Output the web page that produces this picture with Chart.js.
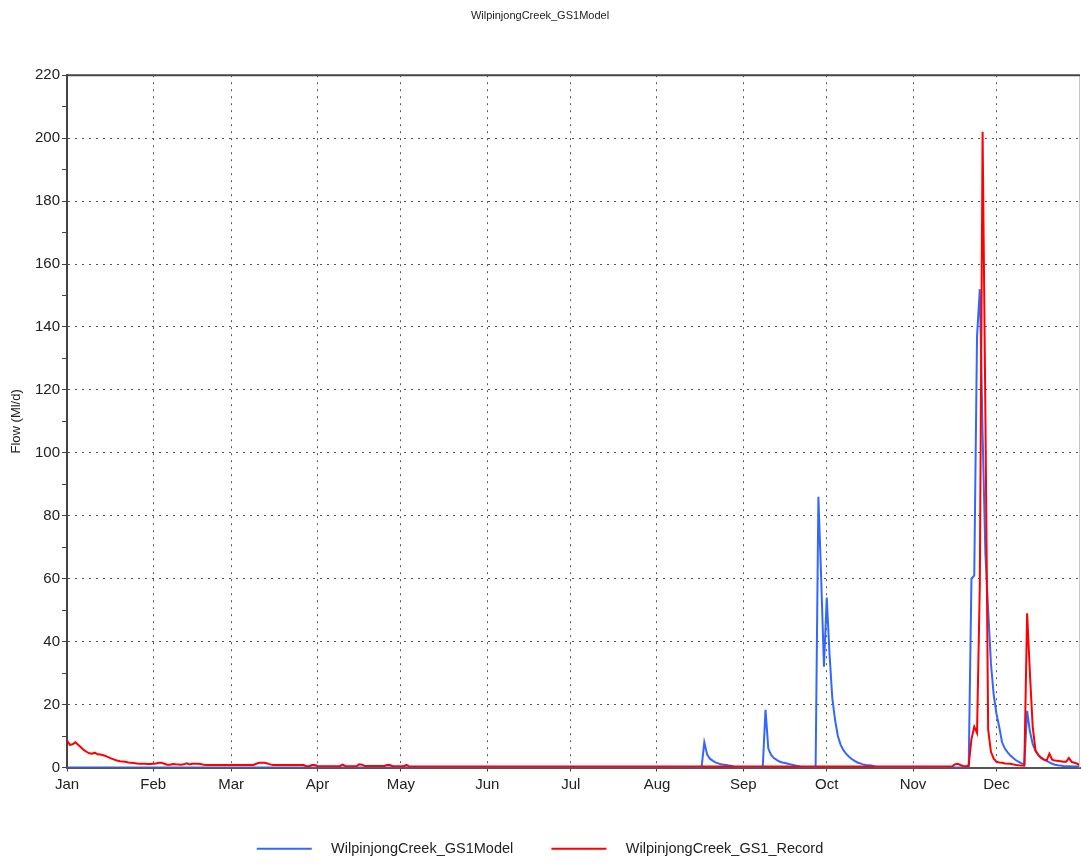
<!DOCTYPE html>
<html>
<head>
<meta charset="utf-8">
<script src="https://cdn.jsdelivr.net/npm/chart.js@4.4.1/dist/chart.umd.min.js"></script>
<style>
  html, body { margin: 0; padding: 0; background: #fff; }
  #wrap { width: 1081px; height: 866px; }
</style>
</head>
<body>
<div id="wrap"><canvas id="flowCanv"></canvas></div>
<script>
// month starts as day-of-year (non leap year), used for ticks
const monthStarts = [0, 31, 59, 90, 120, 151, 181, 212, 243, 273, 304, 334]
const monthLabels = ['Jan', 'Feb', 'Mar', 'Apr', 'May', 'Jun', 'Jul', 'Aug', 'Sep', 'Oct', 'Nov', 'Dec']

// modelled flow (Ml/d), day of year -> value
const modelDays = [0, 228, 229, 230, 231, 232, 233, 234, 235, 236, 237, 238, 239, 240,
  250, 251, 252, 253, 254, 255, 256, 257, 258, 259, 260, 261, 262, 263, 264,
  269, 270, 271, 272, 273, 274, 275, 276, 277, 278, 279, 280, 281, 282, 283, 284, 285, 286, 287, 288, 289, 290, 291,
  324, 325, 326, 327, 328, 329, 330, 331, 332, 333, 334, 335, 336, 337, 338, 339, 340, 341, 342, 343, 344,
  345, 346, 347, 348, 349, 350, 351, 352, 353, 354, 355, 356, 357, 358, 360, 362, 364]
const modelFlow = [0, 0, 8.0, 4.2, 2.8, 2.2, 1.6, 1.3, 1.0, 0.9, 0.8, 0.6, 0.5, 0,
  0, 18.3, 6.0, 4.0, 3.0, 2.4, 1.9, 1.6, 1.4, 1.2, 1.0, 0.8, 0.6, 0.4, 0,
  0, 86, 60, 32, 54, 36, 22, 15, 10, 7.2, 5.5, 4.3, 3.4, 2.7, 2.1, 1.6, 1.3, 1.0, 0.8, 0.7, 0.6, 0.4, 0,
  0, 60, 61, 137, 152, 106, 68, 50, 33, 23, 17, 12.8, 8, 6, 4.8, 3.8, 3.0, 2.3, 1.8, 1.3, 1.1,
  18, 11.5, 7.5, 5.2, 4.0, 3.2, 2.6, 2.1, 1.6, 1.2, 0.9, 0.7, 0.6, 0.5, 0.4, 0.3, 0.3]

// recorded flow (Ml/d)
const recordDays = [0, 1, 2, 3, 4, 5, 6, 7, 8, 9, 10, 11, 12, 13, 14, 15, 16, 17, 18, 19, 20,
  21, 22, 23, 24, 25, 26, 28, 29, 30, 31, 32, 33, 34, 35, 36, 37, 38, 39, 41, 42, 43, 44, 45, 47, 48, 49, 50,
  67, 68, 69, 71, 72, 73, 74, 85, 86, 87, 88, 89, 90, 98, 99, 100, 104, 105, 106, 107, 114, 115, 116, 117, 121, 122, 123,
  318, 319, 320, 321, 322, 323, 324, 325, 326, 327, 328, 329, 330, 331, 332, 333, 334, 335, 336, 337, 339, 340, 341, 342, 344,
  345, 346, 347, 348, 349, 350, 351, 352, 353, 354, 355, 357, 358, 359, 360, 361, 362, 363, 364]
const recordFlow = [8.6, 7.2, 7.4, 8.0, 7.2, 6.4, 5.6, 5.0, 4.5, 4.4, 4.7, 4.2, 4.1, 3.9, 3.6, 3.2, 2.8, 2.5, 2.2, 2.0, 1.9,
  1.8, 1.6, 1.5, 1.4, 1.3, 1.2, 1.2, 1.1, 1.1, 1.2, 1.3, 1.5, 1.5, 1.2, 0.9, 0.9, 1.1, 1.0, 0.9, 1.0, 1.3, 1.0, 1.2, 1.2, 1.1, 0.9, 0.8,
  0.8, 1.2, 1.5, 1.5, 1.3, 1.0, 0.8, 0.8, 0.4, 0.4, 0.8, 0.8, 0.5, 0.4, 0.9, 0.5, 0.4, 1.0, 0.9, 0.5, 0.5, 0.8, 0.8, 0.4, 0.4, 0.8, 0.3,
  0.3, 1.0, 1.2, 0.8, 0.5, 0.4, 0.6, 9, 13, 11, 58, 202, 113, 12, 5, 2.8, 1.8, 1.6, 1.5, 1.3, 1.2, 1.0, 0.8, 0.7, 0.6,
  49, 30, 13, 5.5, 4.0, 3.0, 2.5, 2.2, 4.4, 2.5, 2.2, 2.0, 1.8, 1.8, 3.0, 1.8, 1.5, 1.2, 0.8]

const FONT = 'Liberation Sans, Arial, sans-serif'
const TXT = '#222'

function toPoints(days, vals) {
  return days.map((d, i) => ({ x: d, y: vals[i] }))
}

/* frame: top border and light right border */
const framePlugin = {
  id: 'frame',
  afterDatasetsDraw(chart) {
    const { ctx, chartArea: a } = chart
    ctx.save()
    ctx.strokeStyle = '#c8c8c8'
    ctx.lineWidth = 1
    ctx.beginPath()
    ctx.moveTo(a.right - 0.5, a.top)
    ctx.lineTo(a.right - 0.5, a.bottom)
    ctx.stroke()
    ctx.strokeStyle = '#444'
    ctx.lineWidth = 2
    ctx.beginPath()
    ctx.moveTo(a.left, a.top)
    ctx.lineTo(a.right, a.top)
    ctx.stroke()
    ctx.restore()
  }
}

// legend text gets some spacing so it sits like the original legend
function legendLabels(chart) {
  const items = Chart.defaults.plugins.legend.labels.generateLabels(chart)
  items.forEach(item => {
    item.text = '   ' + item.text + (item.datasetIndex === 0 ? '       ' : '')
  })
  return items
}

const flowCtx = document.getElementById('flowCanv')
const flowChart = new Chart(flowCtx, {
  type: 'line',
  data: {
    datasets: [{
        label: 'WilpinjongCreek_GS1Model',
        data: toPoints(modelDays, modelFlow),
        borderColor: 'rgb(51, 102, 255)',
        backgroundColor: 'rgb(51, 102, 255)',
        borderWidth: 2,
        order: 1
      },
      {
        label: 'WilpinjongCreek_GS1_Record',
        data: toPoints(recordDays, recordFlow),
        borderColor: 'rgb(255, 0, 0)',
        backgroundColor: 'rgb(255, 0, 0)',
        borderWidth: 2,
        order: 0
      }
    ]
  },
  options: {
    responsive: true,
    maintainAspectRatio: false,
    animation: false,
    layout: { padding: { left: 0, right: 1, top: 0, bottom: 0 } },
    elements: {
      point: { radius: 0 },
      line: { tension: 0, fill: false }
    },
    plugins: {
      title: {
        display: true,
        text: 'WilpinjongCreek_GS1Model',
        color: TXT,
        font: { family: FONT, size: 11, weight: 'normal' },
        padding: { top: 9, bottom: 53 }
      },
      legend: {
        position: 'bottom',
        labels: {
          usePointStyle: true,
          pointStyle: 'line',
          pointStyleWidth: 55,
          padding: 10,
          color: TXT,
          font: { family: FONT, size: 14.5 },
          generateLabels: legendLabels,
          sort: (a, b) => a.datasetIndex - b.datasetIndex
        }
      },
      tooltip: { enabled: false }
    },
    scales: {
      x: {
        type: 'linear',
        min: 0,
        max: 364,
        afterBuildTicks: axis => { axis.ticks = monthStarts.map(v => ({ value: v })) },
        afterFit: axis => { axis.height = 64 },
        ticks: {
          autoSkip: false,
          maxRotation: 0,
          padding: 4,
          color: TXT,
          font: { family: FONT, size: 15 },
          callback: (v, i) => monthLabels[i]
        },
        grid: { color: '#555', tickColor: '#444', tickLength: 4 },
        border: { display: true, color: '#555', width: 2, dash: [2, 5] }
      },
      y: {
        min: 0,
        max: 220,
        afterFit: axis => { axis.width = 67 },
        title: {
          display: true,
          text: 'Flow (Ml/d)',
          color: TXT,
          font: { family: FONT, size: 13 },
          padding: { top: 9 }
        },
        ticks: {
          stepSize: 10,
          autoSkip: false,
          padding: 2,
          color: TXT,
          font: { family: FONT, size: 15 },
          callback: v => (v % 20 === 0 ? v : '')
        },
        grid: {
          color: c => (c.tick && c.tick.value % 20 === 0 ? '#555' : 'rgba(0,0,0,0)'),
          tickColor: '#444',
          tickLength: 5
        },
        border: { display: true, color: '#444', width: 2, dash: [2, 5] }
      }
    }
  },
  plugins: [framePlugin]
})
</script>
</body>
</html>
